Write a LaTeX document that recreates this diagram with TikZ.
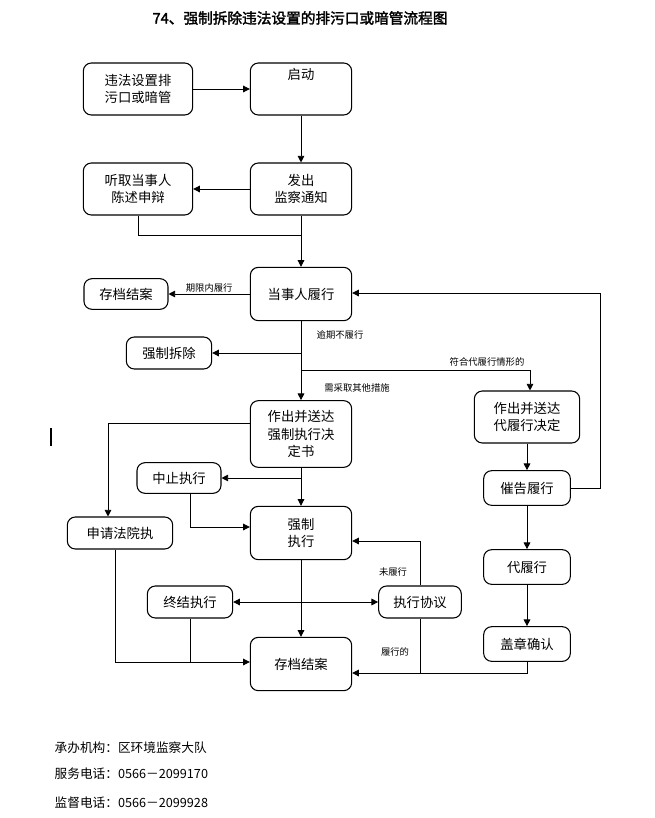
\documentclass[tikz,border=0pt]{standalone}
\usepackage{fontspec}
\setmainfont{Noto Sans CJK SC}
\newfontfamily\cjkb{Noto Sans CJK SC}[FakeBold=2]
\usetikzlibrary{arrows.meta}
\begin{document}
\begin{tikzpicture}[x=0.75pt,y=-0.75pt,
 box/.style={draw,rounded corners=6pt,line width=0.8pt,align=center,font=\fontsize{10}{13}\selectfont,inner sep=2pt},
 lab/.style={font=\fontsize{7}{8}\selectfont,inner sep=1pt},
 ar/.style={-{Triangle[length=5pt,width=5pt]},line width=0.7pt},
 ln/.style={line width=0.7pt}]
\useasboundingbox (0,0) rectangle (654,818);
\node[font=\cjkb\fontsize{11}{13}\selectfont] (title) at (300,18) {74、强制拆除违法设置的排污口或暗管流程图};
\node[box,minimum width=82pt,minimum height=39pt] (wf) at (138,89) {违法设置排\\污口或暗管};
\node[box,minimum width=76pt,minimum height=39pt,anchor=center] (qd) at (301,89) {启动\\[9pt]};
\node[box,minimum width=82pt,minimum height=39pt] (tq) at (138,189) {听取当事人\\陈述申辩};
\node[box,minimum width=76pt,minimum height=39pt] (fc) at (301,189) {发出\\监察通知};
\node[box,minimum width=63pt,minimum height=23pt] (cd1) at (126,294) {存档结案};
\node[box,minimum width=76pt,minimum height=40pt] (dsr) at (301,294) {当事人履行};
\node[box,minimum width=64pt,minimum height=24pt] (qc) at (169,353) {强制拆除};
\node[box,minimum width=76pt,minimum height=50pt] (zc) at (301,434) {作出并送达\\强制执行决\\定书};
\node[box,minimum width=79pt,minimum height=39pt] (dl) at (527,417) {作出并送达\\代履行决定};
\node[box,minimum width=63pt,minimum height=23pt] (zz) at (179,478) {中止执行};
\node[box,minimum width=65pt,minimum height=26pt] (cg) at (527,488) {催告履行};
\node[box,minimum width=79pt,minimum height=24pt] (sq) at (120,533) {申请法院执};
\node[box,minimum width=76pt,minimum height=40pt] (qz) at (301,533) {强制\\执行};
\node[box,minimum width=65pt,minimum height=26pt] (dlx) at (527,567) {代履行};
\node[box,minimum width=64pt,minimum height=24pt] (zj) at (190,602) {终结执行};
\node[box,minimum width=62pt,minimum height=24pt] (xy) at (420,602) {执行协议};
\node[box,minimum width=65pt,minimum height=26pt] (gz) at (527,644) {盖章确认};
\node[box,minimum width=76pt,minimum height=40pt] (cd2) at (301,664) {存档结案};

\coordinate (a1) at (138,235); \coordinate (a2) at (301,235);
\coordinate (b1) at (301,353); \coordinate (b2) at (301,370); \coordinate (b3) at (530,370);
\coordinate (c1) at (600,488); \coordinate (c2) at (600,293);
\coordinate (d1) at (527,673); \coordinate (e1) at (108,423);
\coordinate (f1) at (301,478); \coordinate (g0) at (190,493); \coordinate (g1) at (190,527);
\coordinate (h1) at (420,541); \coordinate (k1) at (190,662);
\coordinate (m1) at (115,662); \coordinate (n1) at (420,673);

\draw[ar] (wf) -- (qd);
\draw[ar] (qd) -- (fc);
\draw[ar] (fc.west|-tq) -- (tq);
\draw[ln] (tq) -- (a1) -- (a2);
\draw[ar] (fc) -- (dsr);
\draw[ar] (dsr) -- node[lab,above]{期限内履行} (cd1);
\draw[ar] (dsr) -- (zc);
\node[lab] at (340,335) {逾期不履行};
\node[lab] at (357,388) {需采取其他措施};
\draw[ar] (b1) -- (qc);
\draw[ar] (b2) -- (b3) -- (dl.north-|b3);
\node[lab] at (487,362) {符合代履行情形的};
\draw[ar] (dl) -- (cg);
\draw[ar] (cg) -- (dlx);
\draw[ar] (dlx) -- (gz);
\draw[ar] (cg) -- (c1) -- (c2) -- (dsr.east|-c2);
\draw[ar] (gz) -- (d1) -- (cd2.east|-d1);
\draw[ar] (zc) -- (qz);
\draw[ar] (zc.west|-e1) -- (e1) -- (sq.north-|e1);
\draw[ar] (f1) -- (zz);
\draw[ar] (g0) -- (g1) -- (qz.west|-g1);
\draw[ar] (qz) -- (cd2);
\draw[ar] (xy) -- (h1) -- (qz.east|-h1);
\node[lab] at (393,572) {未履行};
\draw[{Triangle[length=5pt,width=5pt]}-{Triangle[length=5pt,width=5pt]},line width=0.7pt] (zj) -- (xy);
\draw[ln] (zj) -- (k1);
\draw[ar] (sq.south-|m1) -- (m1) -- (cd2.west|-m1);
\draw[ln] (xy) -- (n1);
\node[lab] at (395,652) {履行的};
\draw[line width=1pt] (51,428) -- (51,446);

\node[anchor=west,font=\fontsize{9.5}{12}\selectfont] (f1t) at (50,748) {承办机构：区环境监察大队};
\node[anchor=west,font=\fontsize{9.5}{12}\selectfont] (f2t) at (50,774) {服务电话：0566－2099170};
\node[anchor=west,font=\fontsize{9.5}{12}\selectfont] (f3t) at (50,803) {监督电话：0566－2099928};
\end{tikzpicture}
\end{document}
